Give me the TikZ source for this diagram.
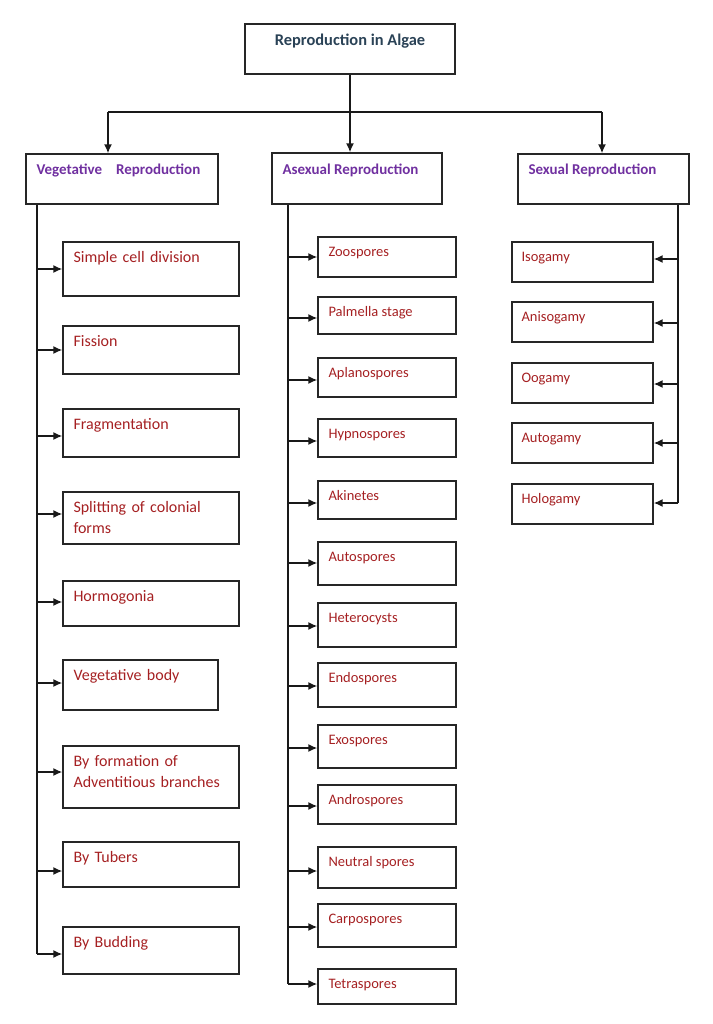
\documentclass[tikz,border=0pt]{standalone}
\usepackage{fontspec}
\setmainfont{Carlito}
\usetikzlibrary{arrows.meta,%
                fit,%
                positioning%
              }
\definecolor{headpurple}{RGB}{112,48,160}
\definecolor{itemred}{RGB}{165,32,34}
\definecolor{titleslate}{RGB}{42,66,86}

% top/bottom/right/arrow/num/text
\def\setofvegboxes{242/296/239/269/1/Simple cell division,
  326/374/239/350/2/Fission, 409/457/239/436/3/Fragmentation,
  492/544/239/514/4/{Splitting of colonial\\forms},
  581/626/239/602/5/Hormogonia, 660/710/218/683/6/Vegetative body,
  746/808/239/772/7/{By formation of\\Adventitious branches},
  842/887/239/871/8/By Tubers, 927/974/239/954/9/By Budding}
% top/bottom/arrow/num/text
\def\setofsporeboxes{237/277/257/1/Zoospores, 297/334/318/2/Palmella stage,
  358/397/380/3/Aplanospores, 419/457/441/4/Hypnospores,
  481/519/503/5/Akinetes, 542/585/563/6/Autospores,
  603/647/626/7/Heterocysts, 663/707/686/8/Endospores,
  725/768/748/9/Exospores, 785/824/806/10/Androspores,
  847/888/871/11/Neutral spores, 904/947/927/12/Carpospores,
  969/1004/984/13/Tetraspores}
\def\setofgamyboxes{242/282/259/1/Isogamy, 302/342/323/2/Anisogamy,
  363/403/384/3/Oogamy, 423/463/443/4/Autogamy, 484/524/503/5/Hologamy}

\begin{document}
\begin{tikzpicture}[x=1pt,y=-1pt,
    every node/.style={inner sep=0pt},
    box/.style={rectangle,draw=black!85,line width=1.4pt,inner sep=0pt},
    conn/.style={draw=black!90,line width=1.5pt},
    arr/.style={conn,-{Latex[length=9pt,width=8pt]}},
    titletext/.style={anchor=base,font=\fontsize{16.4}{20}\selectfont\bfseries,text=titleslate},
    headtext/.style={anchor=base west,font=\fontsize{15}{18}\selectfont\bfseries,text=headpurple},
    vegtext/.style={anchor=base west,align=left,text width=160pt,
      font=\fontsize{16}{21}\selectfont,text=itemred},
    sporetext/.style={anchor=base west,font=\fontsize{14.5}{18}\selectfont,text=itemred}]

    \useasboundingbox (0,0) rectangle (712,1024);

    %% TITLE AND HEADS
    \node[box, fit={(245,24)(455,74)}] (Title) {};
    \node[titletext] (Tt) at ([yshift=-22pt]Title.north) {Reproduction in Algae};

    \node[box, fit={(26,154)(218,204)}] (Vhead) {};
    \node[headtext] (Vht) at ([xshift=11pt,yshift=-21pt]Vhead.north west)
      {Vegetative\hspace{10.5pt} Reproduction};
    \node[box, fit={(272,153)(442,204)}] (Ahead) {};
    \node[headtext] (Aht) at ([xshift=11pt,yshift=-22pt]Ahead.north west)
      {Asexual Reproduction};
    \node[box, fit={(518,154)(689,204)}] (Shead) {};
    \node[headtext] (Sht) at ([xshift=11pt,yshift=-21pt]Shead.north west)
      {Sexual Reproduction};

    \coordinate (Vtop) at (108,112);
    \coordinate (Stop) at (602,112);
    \draw[conn] (Vtop) -- (Stop);
    \draw[arr] (Title.south) -- (Title.south |- Ahead.north);
    \draw[arr] (Vtop) -- (Vtop |- Vhead.north);
    \draw[arr] (Stop) -- (Stop |- Shead.north);

    %% VEGETATIVE
    \foreach \ytop/\ybot/\xr/\ya/\n/\txt in \setofvegboxes {%
      \node[box, fit={(63,\ytop)(\xr,\ybot)}] (Vv\n) {};
      \node[vegtext] (Vt\n) at ([xshift=11pt,yshift=-21pt]Vv\n.north west) {\txt};
      \coordinate (Va\n) at (37,\ya);
      \draw[arr] (Va\n) -- (Va\n -| Vv\n.west);
    }%
    \draw[conn] (Vhead.south -| Va1) -- (Va9);

    %% ASEXUAL
    \foreach \ytop/\ybot/\ya/\n/\txt in \setofsporeboxes {%
      \node[box, fit={(318,\ytop)(456,\ybot)}] (Av\n) {};
      \node[sporetext] (At\n) at ([xshift=11pt,yshift=-20pt]Av\n.north west) {\txt};
      \coordinate (Aa\n) at (288,\ya);
      \draw[arr] (Aa\n) -- (Aa\n -| Av\n.west);
    }%
    \draw[conn] (Ahead.south -| Aa1) -- (Aa13);

    %% SEXUAL
    \foreach \ytop/\ybot/\ya/\n/\txt in \setofgamyboxes {%
      \node[box, fit={(512,\ytop)(653,\ybot)}] (Sv\n) {};
      \node[sporetext] (St\n) at ([xshift=10pt,yshift=-20pt]Sv\n.north west) {\txt};
      \coordinate (Sa\n) at (678,\ya);
      \draw[arr] (Sa\n) -- (Sa\n -| Sv\n.east);
    }%
    \draw[conn] (Shead.south -| Sa1) -- (Sa5);

  \end{tikzpicture}
\end{document}
